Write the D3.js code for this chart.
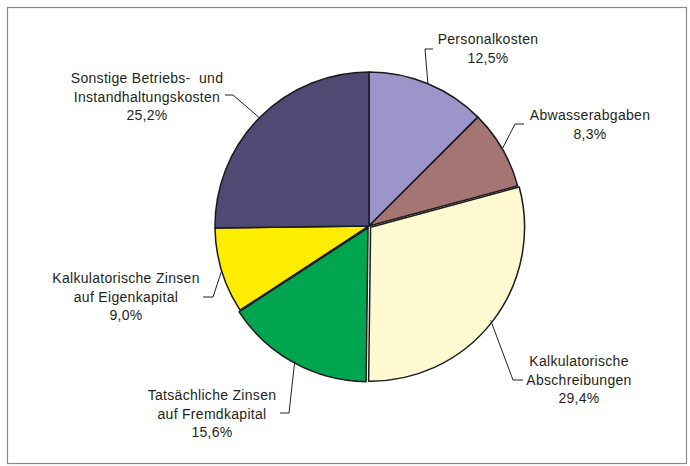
<!DOCTYPE html>
<html>
<head>
<meta charset="utf-8">
<script src="https://cdn.jsdelivr.net/npm/d3@7"></script>
<style>
  body { margin: 0; background: #fff; }
  text { font-family: "Liberation Sans", Arial, sans-serif; font-size: 14px; fill: #231f20; letter-spacing: 0.3px; white-space: pre; }
</style>
</head>
<body>
<div id="content"></div>
<script>
// data
let labels = [
    ["Personalkosten"],
    ["Abwasserabgaben"],
    ["Kalkulatorische", "Abschreibungen"],
    ["Tatsächliche Zinsen", "auf Fremdkapital"],
    ["Kalkulatorische Zinsen", "auf Eigenkapital"],
    ["Sonstige Betriebs-  und", "Instandhaltungskosten"]
];
let values = [12.5, 8.3, 29.4, 15.6, 9.0, 25.2];
let colors = ["#9b95c9", "#a57573", "#fff9d2", "#00a54f", "#ffed00", "#4e4a74"];
let exploded = [0, 0, 1, 1, 0, 0];

// label layout: text centre x, first baseline y, knee x/y, end of horizontal stub
let labelLayout = [
    {x: 488, y: 44, kx: 425, ky: 49, ex: 433},
    {x: 590, y: 120, kx: 515, ky: 124, ex: 524},
    {x: 579, y: 366, kx: 513, ky: 380, ex: 523},
    {x: 212, y: 400, kx: 289, ky: 413, ex: 280},
    {x: 126, y: 283, kx: 213, ky: 297, ex: 203},
    {x: 147, y: 83, kx: 233, ky: 95, ex: 225}
];

const width = 690, height = 466;
const cx = 369, cy = 226, radius = 154;

let svg = d3.select("#content")
    .append("svg")
    .attr("width", width)
    .attr("height", height);

// frame
svg.append("rect")
    .attr("x", 7.5).attr("y", 7.5)
    .attr("width", 679).attr("height", 456)
    .attr("fill", "none")
    .attr("stroke", "#8a8a8a")
    .attr("stroke-width", 1.2);

let pie = d3.pie().sort(null).value(d => d);
let arcs = pie(values);

let arc = d3.arc().innerRadius(0).outerRadius(radius);

let g = svg.append("g")
    .attr("transform", "translate(" + cx + "," + cy + ")");

g.selectAll("path")
    .data(arcs)
    .enter()
    .append("path")
    .attr("d", arc)
    .attr("transform", function(d, i) {
        let a = (d.startAngle + d.endAngle) / 2, off = exploded[i] * 2;
        return "translate(" + (Math.sin(a) * off) + "," + (-Math.cos(a) * off) + ")";
    })
    .attr("fill", (d, i) => colors[i])
    .attr("stroke", "#1a1a1a")
    .attr("stroke-width", 1.5)
    .attr("stroke-linejoin", "round");

// leader lines
arcs.forEach(function(d, i) {
    let a = (d.startAngle + d.endAngle) / 2;
    let px = cx + Math.sin(a) * radius, py = cy - Math.cos(a) * radius;
    let L = labelLayout[i];
    svg.append("polyline")
        .attr("points", [[px, py], [L.kx, L.ky], [L.ex, L.ky]].map(p => p.join(",")).join(" "))
        .attr("fill", "none")
        .attr("stroke", "#231f20")
        .attr("stroke-width", 1);

    let t = svg.append("text")
        .attr("text-anchor", "middle");
    let lines = labels[i].concat([d3.format(".1f")(values[i]).replace(".", ",") + "%"]);
    lines.forEach(function(s, j) {
        t.append("tspan")
            .attr("x", L.x)
            .attr("y", L.y + j * 18.7)
            .text(s);
    });
});
</script>
</body>
</html>
